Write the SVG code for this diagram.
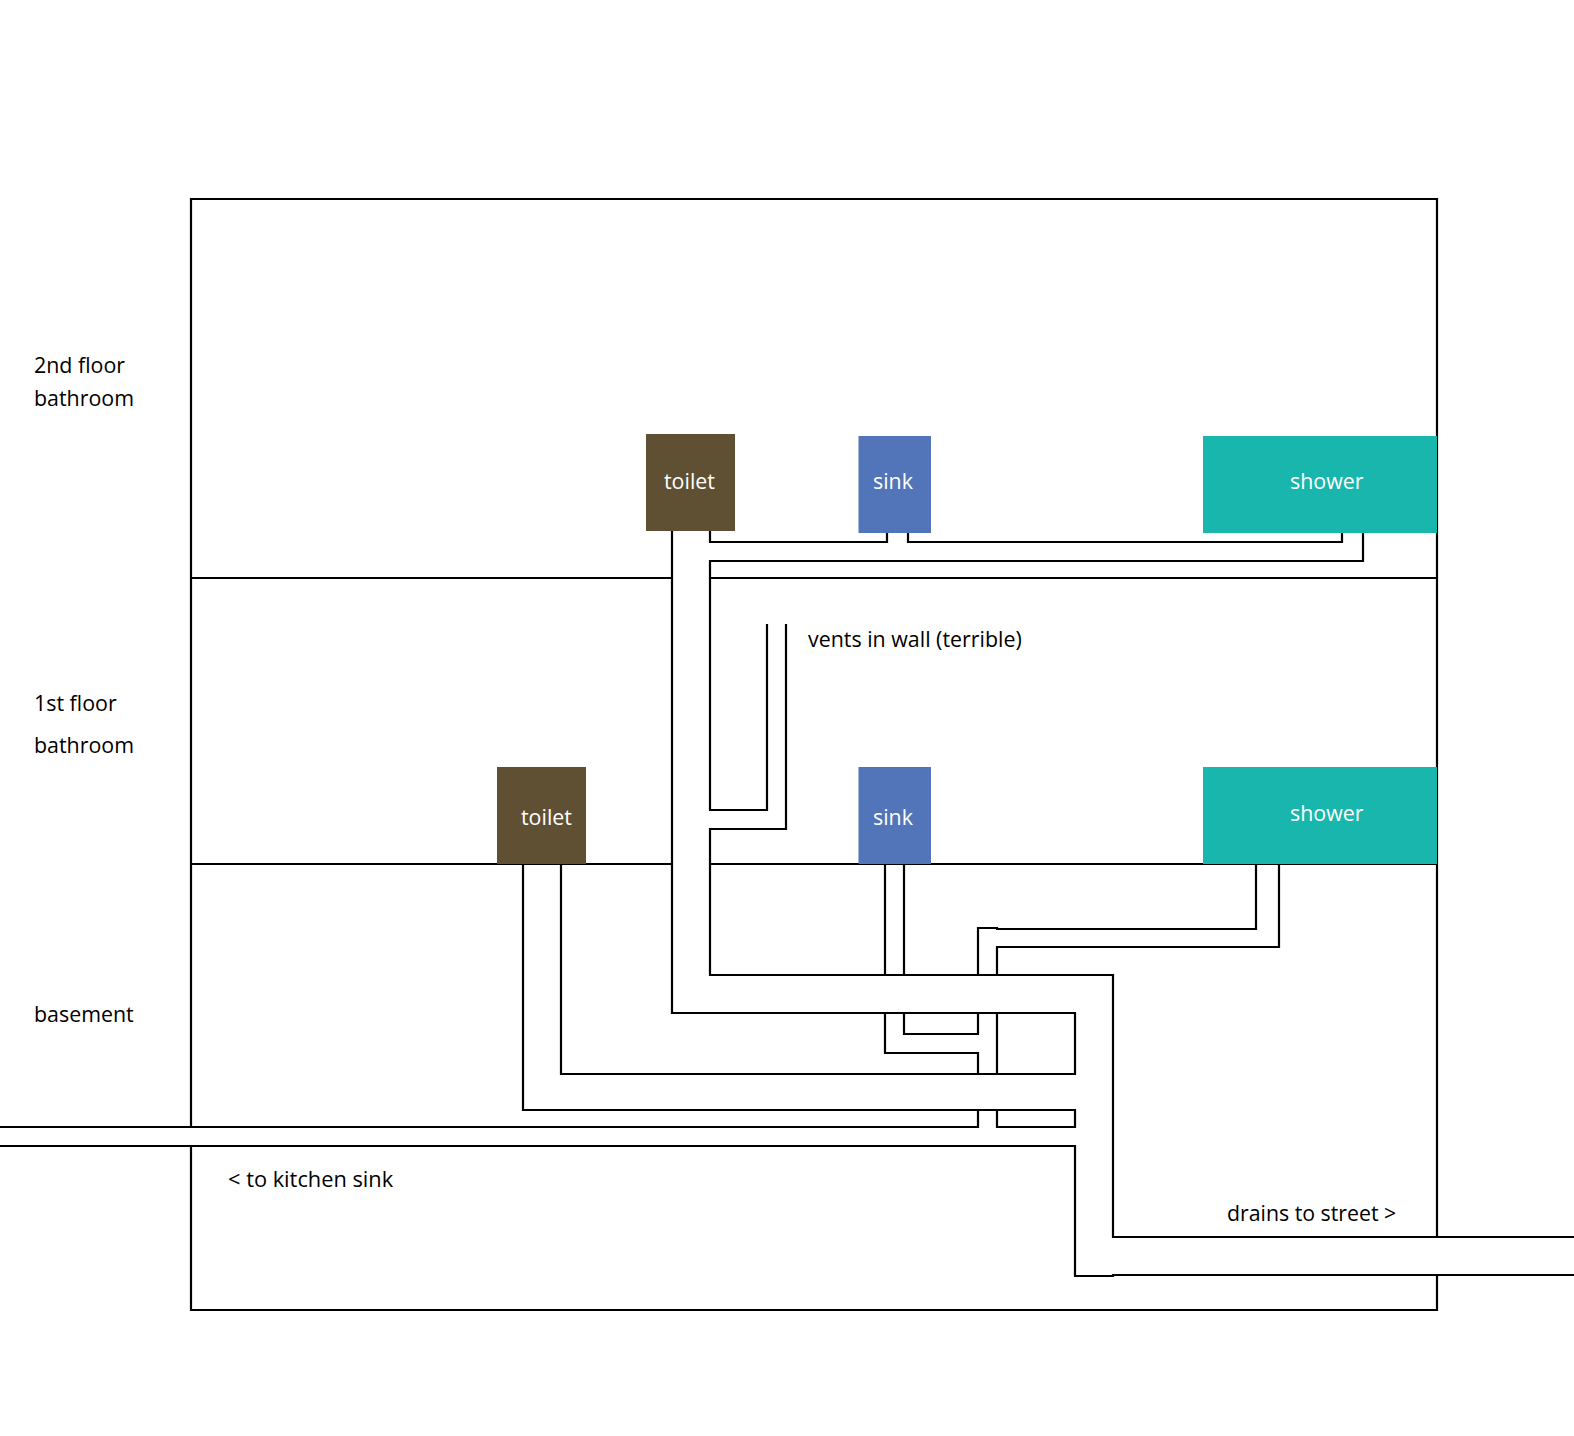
<svg xmlns="http://www.w3.org/2000/svg" width="1574" height="1436" viewBox="0 0 1574 1436">
  <style>
    .wall, .pipe { fill: none; stroke: #000; stroke-width: 2.2; stroke-linejoin: miter; }
    text { font-family: "Open Sans", "Noto Sans", sans-serif; font-size: 21.4px; fill: #000; }
    .fixture-label { fill: #fff; }
    .toilet { fill: #5f4f33; }
    .sink { fill: #5175b8; }
    .shower { fill: #18b6ac; }
  </style>
  <rect width="1574" height="1436" fill="#fff"/>

  <g id="house">
    <path class="wall" d="M191 1127V199H1437V1237M1437 1275V1310H191V1146"/>
    <path class="wall" d="M191 578H672M710 578H1437"/>
    <path class="wall" d="M191 864H672M710 864H1437"/>
  </g>

  <g id="connectors">
    <!-- upstairs toilet stack -->
    <path class="pipe" d="M672 531V1013H1075V1074H561V864"/>
    <!-- upstairs sink and shower branch -->
    <path class="pipe" d="M710 531V542H887V533M908 533V542H1342V533"/>
    <path class="pipe" d="M1363 533V561H710V810H767V624"/>
    <path class="pipe" d="M786 624V829H710V975H1113V1237H1574"/>
    <!-- downstairs sink risers -->
    <path class="pipe" d="M885 864V975M904 864V975"/>
    <!-- downstairs shower branch -->
    <path class="pipe" d="M978 975V928H997V929H1256V864"/>
    <path class="pipe" d="M1279 864V947H997V975"/>
    <path class="pipe" d="M1574 1275H1113V1276H1075V1146H0"/>
    <!-- downstairs sink tie-in -->
    <path class="pipe" d="M885 1013V1053H978V1074"/>
    <path class="pipe" d="M904 1013V1034H978V1013"/>
    <path class="pipe" d="M997 1013V1074"/>
    <!-- downstairs toilet and kitchen line -->
    <path class="pipe" d="M523 864V1110H1075V1127H997V1110"/>
    <path class="pipe" d="M978 1110V1127H0"/>
  </g>

  <g id="toilet-2nd">
    <rect class="toilet" x="646" y="434" width="89" height="97"/>
    <text class="fixture-label" x="664" y="489">toilet</text>
  </g>
  <g id="sink-2nd">
    <rect class="sink" x="858.5" y="436" width="72.5" height="97"/>
    <text class="fixture-label" x="873" y="489">sink</text>
  </g>
  <g id="shower-2nd">
    <rect class="shower" x="1203" y="436" width="234" height="97"/>
    <text class="fixture-label" x="1290" y="489">shower</text>
  </g>
  <g id="toilet-1st">
    <rect class="toilet" x="497" y="767" width="89" height="97"/>
    <text class="fixture-label" x="521" y="825">toilet</text>
  </g>
  <g id="sink-1st">
    <rect class="sink" x="858.5" y="767" width="72.5" height="97"/>
    <text class="fixture-label" x="873" y="825">sink</text>
  </g>
  <g id="shower-1st">
    <rect class="shower" x="1203" y="767" width="234" height="97"/>
    <text class="fixture-label" x="1290" y="821">shower</text>
  </g>

  <g id="labels">
    <text x="34" y="373">2nd floor</text>
    <text x="34" y="406">bathroom</text>
    <text x="34" y="711">1st floor</text>
    <text x="34" y="753">bathroom</text>
    <text x="34" y="1022">basement</text>
    <text x="808" y="647">vents in wall (terrible)</text>
    <text x="228" y="1187" style="font-size:21.8px">&lt; to kitchen sink</text>
    <text x="1227" y="1221" style="font-size:21.3px">drains to street &gt;</text>
  </g>
</svg>
